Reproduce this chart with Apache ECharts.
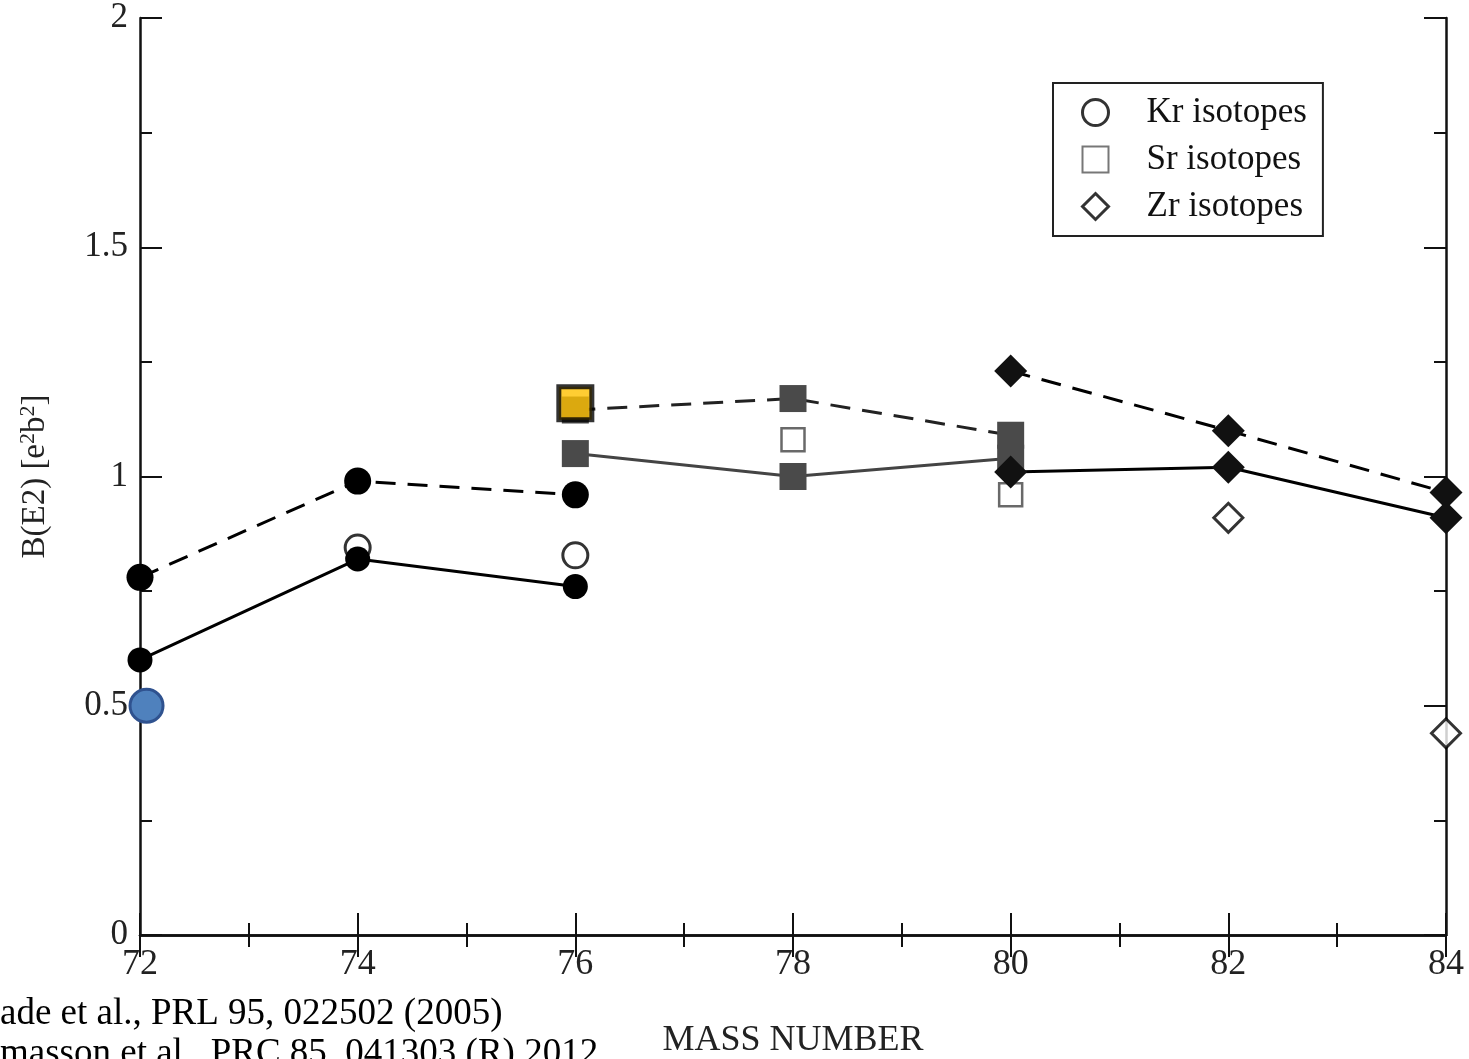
<!DOCTYPE html>
<html><head><meta charset="utf-8">
<script src="https://cdn.jsdelivr.net/npm/echarts@6/dist/echarts.min.js"></script>
<style>html,body{margin:0;padding:0;background:#fff;overflow:hidden}#c{width:1469px;height:1059px}</style>
</head><body><div id="c"></div>
<script>
// Kr isotopes
const krX = [72, 74, 76];
const krCalcDashed = [0.78, 0.99, 0.96];
const krCalcSolid = [0.60, 0.82, 0.76];
const krExpX = [74, 76];
const krExp = [0.845, 0.828];
// Sr isotopes
const srX = [76, 78, 80];
const srCalcDashed = [1.145, 1.17, 1.09];
const srCalcSolid = [1.05, 1.0, 1.04];
const srExpX = [78, 80];
const srExp = [1.08, 0.96];
// Zr isotopes
const zrX = [80, 82, 84];
const zrCalcDashed = [1.23, 1.10, 0.965];
const zrCalcSolid = [1.01, 1.02, 0.91];
const zrExpX = [82, 84];
const zrExp = [0.91, 0.44];
// highlighted new measurements
const newSrX = [76];
const newSr = [1.16];
const newKrX = [72.06];
const newKr = [0.50];
// tick settings
const xTicks = {min: 72, max: 84, interval: 2};
const yTicks = {min: 0, max: 2, interval: 0.5};
const refs = ['ade et al., PRL 95, 022502 (2005)', 'masson et al., PRC 85, 041303 (R) 2012'];

const zip = (xs, ys) => xs.map((x, i) => [x, ys[i]]);
const serif = 'Liberation Serif';
const chart = echarts.init(document.getElementById('c'), null, {renderer: 'canvas'});
const axisCommon = {
  axisLine: {lineStyle: {color: '#111', width: 2.5}},
  axisTick: {inside: true, length: 22, lineStyle: {color: '#111', width: 2}},
  minorTick: {show: true, splitNumber: 2, length: 12, lineStyle: {color: '#111', width: 2}},
  splitLine: {show: false}
};
const dashed = [20, 12];
chart.setOption({
  animation: false,
  grid: {left: 140, right: 23, top: 18, bottom: 124, containLabel: false, outerBoundsMode: 'none'},
  xAxis: [
    Object.assign({type: 'value', position: 'bottom', min: xTicks.min, max: xTicks.max, interval: xTicks.interval,
      name: 'MASS NUMBER', nameLocation: 'middle', nameGap: 88,
      nameTextStyle: {fontFamily: serif, fontSize: 36, color: '#222'},
      axisLabel: {fontFamily: serif, fontSize: 36, color: '#222', margin: 12}}, axisCommon),
    Object.assign({type: 'value', position: 'top', min: xTicks.min, max: xTicks.max, interval: xTicks.interval,
      axisLabel: {show: false}}, axisCommon)
  ],
  yAxis: [
    Object.assign({type: 'value', position: 'left', min: yTicks.min, max: yTicks.max, interval: yTicks.interval,
      name: '{a|B(E2) [e}{s|2}{a|b}{s|2}{a|]}', nameLocation: 'middle', nameGap: 86, nameRotate: 90,
      nameTextStyle: {fontFamily: serif, fontSize: 33, color: '#222',
        rich: {a: {fontFamily: serif, fontSize: 33, color: '#222'},
               s: {fontFamily: serif, fontSize: 22, color: '#222', padding: [0, 0, 15, 0]}}},
      axisLabel: {fontFamily: serif, fontSize: 35, color: '#222', margin: 12, formatter: v => String(v)}}, axisCommon),
    Object.assign({type: 'value', position: 'right', min: yTicks.min, max: yTicks.max, interval: yTicks.interval,
      axisLabel: {show: false}}, axisCommon)
  ],
  legend: {
    orient: 'vertical', left: 1053, top: 83,
    data: [
      {name: 'Kr isotopes', itemStyle: {color: '#fff', borderColor: '#000', borderWidth: 3}},
      {name: 'Sr isotopes', itemStyle: {color: '#fff', borderColor: '#555', borderWidth: 2}},
      {name: 'Zr isotopes', itemStyle: {color: '#fff', borderColor: '#000', borderWidth: 3}}
    ],
    borderColor: '#222', borderWidth: 2, backgroundColor: '#fff',
    padding: [12, 16, 12, 28], itemGap: 12, itemWidth: 26, itemHeight: 26,
    textStyle: {fontFamily: serif, fontSize: 35, color: '#111', padding: [0, 0, 0, 33]}
  },
  graphic: [
    {type: 'text', left: 0, top: 996, style: {text: refs[0], font: '37px "Liberation Serif"', fill: '#000'}},
    {type: 'text', left: 0, top: 1036, style: {text: refs[1], font: '37px "Liberation Serif"', fill: '#000'}}
  ],
  series: [
    {type: 'scatter', name: 'Kr isotopes', data: zip(krExpX, krExp), symbol: 'circle', symbolSize: 25, z: 2,
      itemStyle: {color: '#fff', borderColor: '#000', borderWidth: 3}},
    {type: 'line', data: zip(krX, krCalcDashed), symbol: 'circle', symbolSize: 27, z: 3,
      lineStyle: {color: '#000', width: 3, type: dashed}, itemStyle: {color: '#000'}},
    {type: 'line', data: zip(krX, krCalcSolid), symbol: 'circle', symbolSize: 25, z: 3,
      lineStyle: {color: '#000', width: 3}, itemStyle: {color: '#000'}},
    {type: 'scatter', name: 'Sr isotopes', data: zip(srExpX, srExp), symbol: 'rect', symbolSize: 23, z: 2,
      itemStyle: {color: '#fff', borderColor: '#444', borderWidth: 2.5}},
    {type: 'line', data: zip(srX, srCalcDashed), symbol: 'rect', symbolSize: 27, z: 3,
      lineStyle: {color: '#222', width: 3, type: dashed}, itemStyle: {color: '#4a4a4a'}},
    {type: 'line', data: zip(srX, srCalcSolid), symbol: 'rect', symbolSize: 27, z: 3,
      lineStyle: {color: '#444', width: 3}, itemStyle: {color: '#4a4a4a'}},
    {type: 'scatter', name: 'Zr isotopes', data: zip(zrExpX, zrExp), symbol: 'diamond', symbolSize: 29, z: 2,
      itemStyle: {color: '#fff', borderColor: '#000', borderWidth: 3}},
    {type: 'line', data: zip(zrX, zrCalcDashed), symbol: 'diamond', symbolSize: 33, z: 4,
      lineStyle: {color: '#000', width: 3, type: dashed}, itemStyle: {color: '#111'}},
    {type: 'line', data: zip(zrX, zrCalcSolid), symbol: 'diamond', symbolSize: 33, z: 4,
      lineStyle: {color: '#000', width: 3}, itemStyle: {color: '#111'}},
    {type: 'scatter', data: zip(newSrX, newSr), symbol: 'rect', symbolSize: 33, z: 6,
      itemStyle: {color: '#FFC000', borderColor: '#000', borderWidth: 5}},
    {type: 'scatter', data: zip(newKrX, newKr), symbol: 'circle', symbolSize: 33, z: 6,
      itemStyle: {color: '#4F81BD', borderColor: '#2F528F', borderWidth: 3, opacity: 1}}
  ]
});
</script></body></html>
